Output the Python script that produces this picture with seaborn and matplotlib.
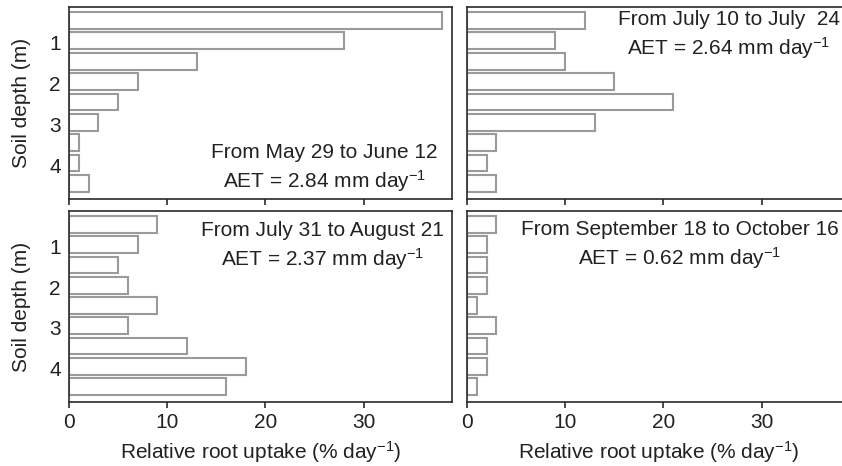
import matplotlib
matplotlib.use("Agg")
import matplotlib.pyplot as plt
import seaborn as sns
import pandas as pd

sns.set_theme(style="white")
plt.rcParams['font.family'] = ['Liberation Sans', 'DejaVu Sans']
plt.rcParams['mathtext.default'] = 'regular'

depths = [0.45, 0.95, 1.45, 1.95, 2.45, 2.95, 3.45, 3.95, 4.45]
may_june = [38, 28, 13, 7, 5, 3, 1, 1, 2]
july = [12, 9, 10, 15, 21, 13, 3, 2, 3]
july_aug = [9, 7, 5, 6, 9, 6, 12, 18, 16]
sep_oct = [3, 2, 2, 2, 1, 3, 2, 2, 1]

titles = ["From May 29 to June 12\nAET = 2.84 mm day$^{-1}$",
          "From July 10 to July  24\nAET = 2.64 mm day$^{-1}$",
          "From July 31 to August 21\nAET = 2.37 mm day$^{-1}$",
          "From September 18 to October 16\nAET = 0.62 mm day$^{-1}$"]
series = [may_june, july, july_aug, sep_oct]
xticks = [0, 10, 20, 30]
yticks = [1, 2, 3, 4]

W, H = 842, 466
fig = plt.figure(figsize=(W / 100, H / 100), dpi=100)

def pos(x0, x1, y0, y1):
    return [x0 / W, 1 - y1 / H, (x1 - x0) / W, (y1 - y0) / H]

rects = [pos(69, 452, 7, 199), pos(467, 850, 7, 199),
         pos(69, 452, 211, 402), pos(467, 850, 211, 402)]
text_pos = [(0.666, 0.16), (0.684, 0.85), (0.663, 0.815), (0.556, 0.82)]

FS = 15
for i, (r, vals, t, tp) in enumerate(zip(rects, series, titles, text_pos)):
    ax = fig.add_axes(r)
    df = pd.DataFrame({"depth": depths, "uptake": vals})
    sns.barplot(data=df, x="uptake", y="depth", orient="h", native_scale=True,
                width=0.82, color="white", edgecolor="#9a9a9a", linewidth=1.5,
                saturation=1, ax=ax, errorbar=None)
    ax.set_xlim(0, 39)
    ax.set_ylim(4.83, 0.12)
    ax.set_xticks(xticks)
    ax.set_yticks(yticks)
    for s in ax.spines.values():
        s.set_color("#2a2a2a")
        s.set_linewidth(1.2)
    ax.tick_params(axis="x", direction="out", length=4, width=1.2,
                   color="#2a2a2a", labelsize=FS, pad=4, bottom=True,
                   labelcolor="#222222")
    ax.tick_params(axis="y", length=0, labelsize=FS, pad=6, labelcolor="#222222")
    if i in (0, 1):
        ax.set_xticklabels([])
        ax.set_xlabel("")
    else:
        ax.set_xlabel("Relative root uptake (% day$^{-1}$)", fontsize=FS,
                      color="#222222", labelpad=5)
    if i in (1, 3):
        ax.set_yticklabels([])
        ax.set_ylabel("")
    else:
        ax.set_ylabel("Soil depth (m)", fontsize=FS, color="#222222", labelpad=13)
    ax.text(tp[0], tp[1], t, transform=ax.transAxes, ha="center", va="center",
            multialignment="center", fontsize=FS, color="#222222", linespacing=1.3)

fig.savefig("out.png", dpi=100)
